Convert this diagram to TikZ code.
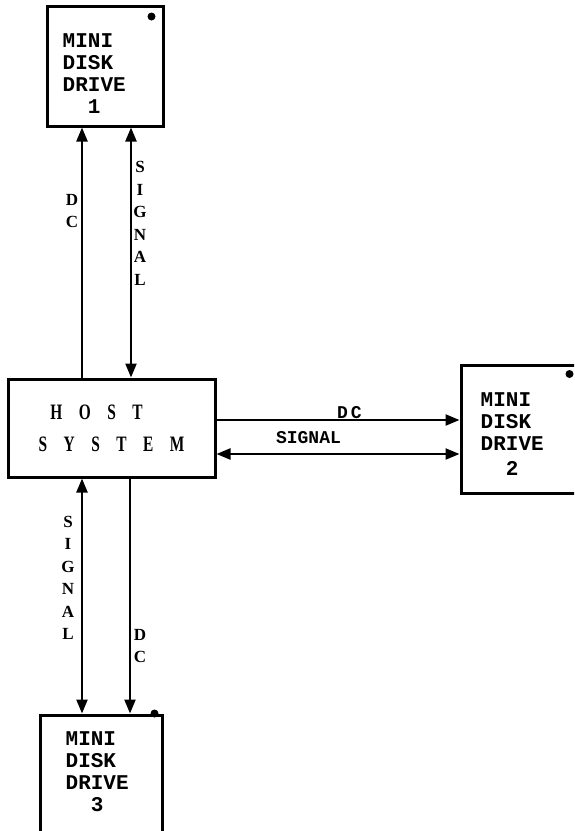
\documentclass[tikz,border=0pt]{standalone}
\usepackage{fontspec}
\setmainfont{Liberation Serif}
\newfontfamily\drivefont{Liberation Mono}
\newfontfamily\lblfont{Liberation Mono}
\newfontfamily\hostfont{Liberation Serif}[FakeStretch=0.7,LetterSpace=75]
\usetikzlibrary{arrows.meta, calc}

\begin{document}
\begin{tikzpicture}[x=1pt, y=-1pt,
        drive/.style={rectangle, draw, line width=3pt, minimum width=116pt, minimum height=120pt},
        host/.style={rectangle, draw, line width=3pt, minimum width=207pt, minimum height=98pt, align=center, inner sep=0pt, font=\hostfont\bfseries\fontsize{22}{32}\selectfont},
        drivetxt/.style={anchor=north west, inner sep=0pt, align=left, font=\drivefont\bfseries\fontsize{21}{22}\selectfont},
        vlbl/.style={align=center, inner sep=0pt, font=\bfseries\fontsize{17}{22.5}\selectfont},
        hlbl/.style={inner sep=0pt, font=\lblfont\bfseries\fontsize{18}{18}\selectfont},
        dot/.style={circle, fill, inner sep=0pt, minimum size=8pt},
        arr/.style={-{Triangle[length=14pt, width=11pt]}, line width=2.3pt},
        darr/.style={{Triangle[length=14pt, width=11pt]}-{Triangle[length=14pt, width=11pt]}, line width=2.3pt}
    ]
    \useasboundingbox (0,0) rectangle (574,831);
    \clip (0,0) rectangle (574,831);

    % boxes
    \node[host] (host) at (111.5,428) {HOST\hspace*{30pt}\\SYSTEM};
    \node[drive] (d1) at (105,66) {};
    \node[drive, minimum width=117pt, minimum height=128pt] (d2) at (519.5,429.5) {};
    \node[drive, minimum width=122pt] (d3) at (101,775) {};

    \node[drivetxt] (d1txt) at ($(d1.north west)+(17,29)$) {MINI\\DISK\\DRIVE\\\phantom{DR}1};
    \node[drivetxt] (d2txt) at ($(d2.north west)+(21,28)$) {MINI\\DISK\\DRIVE\\[3pt]\phantom{DR}2};
    \node[drivetxt] (d3txt) at ($(d3.north west)+(27,18)$) {MINI\\DISK\\DRIVE\\\phantom{DR}3};

    \node[dot] (d1dot) at ($(d1.north east)+(-13,12)$) {};
    \node[dot] (d2dot) at ($(d2.north east)+(-10,10)$) {};
    \node[dot] (d3dot) at ($(d3.north east)+(-9,0)$) {};

    % connectors
    \draw[arr] ([xshift=-29.5pt]host.north) -- ([xshift=-23pt]d1.south);
    \draw[darr] ([xshift=19.5pt]host.north) -- ([xshift=26pt]d1.south);
    \draw[arr] ([yshift=8pt]host.east) -- ([yshift=9.5pt]d2.west);
    \draw[darr] ([yshift=-26pt]host.east) -- ([yshift=-24.5pt]d2.west);
    \draw[darr] ([xshift=-29.5pt]host.south) -- ([xshift=-19pt]d3.north);
    \draw[arr] ([xshift=18.5pt]host.south) -- ([xshift=29pt]d3.north);

    % labels
    \node[vlbl] (dc1) at (72,211) {D\\C};
    \node[vlbl] (sig1) at (140,223.5) {S\\I\\G\\N\\A\\L};
    \node[hlbl] (dc2) at (349.5,413) {D\,C};
    \node[hlbl] (sig2) at (308.5,438) {SIGNAL};
    \node[vlbl] (sig3) at (68,578) {S\\I\\G\\N\\A\\L};
    \node[vlbl] (dc3) at (140,646) {D\\C};
\end{tikzpicture}
\end{document}
